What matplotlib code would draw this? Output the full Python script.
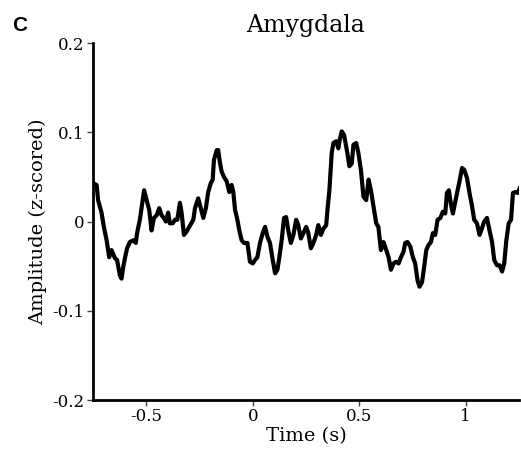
import matplotlib
matplotlib.use('Agg')
import matplotlib.pyplot as plt

# amplitude trace (time in s, z-scored amplitude)
time_s = [
    -0.750, -0.733, -0.726, -0.710, -0.699, -0.686, -0.674, -0.663, -0.647, -0.637,
    -0.624, -0.616, -0.608, -0.600, -0.590, -0.577, -0.561, -0.549, -0.543, -0.530,
    -0.517, -0.510, -0.498, -0.486, -0.475, -0.464, -0.451, -0.439, -0.428, -0.417,
    -0.408, -0.397, -0.389, -0.376, -0.365, -0.354, -0.342, -0.334, -0.323, -0.310,
    -0.298, -0.279, -0.271, -0.256, -0.244, -0.232, -0.220, -0.209, -0.197, -0.188,
    -0.182, -0.169, -0.162, -0.154, -0.146, -0.135, -0.122, -0.110, -0.099, -0.091,
    -0.083, -0.072, -0.063, -0.052, -0.041, -0.025, -0.013, 0.000, 0.011, 0.022,
    0.034, 0.047, 0.058, 0.069, 0.081, 0.094, 0.105, 0.116, 0.125, 0.136,
    0.147, 0.157, 0.167, 0.179, 0.191, 0.204, 0.214, 0.226, 0.238, 0.251,
    0.261, 0.273, 0.285, 0.298, 0.308, 0.320, 0.332, 0.345, 0.351, 0.360,
    0.371, 0.379, 0.392, 0.402, 0.410, 0.418, 0.429, 0.442, 0.454, 0.465,
    0.473, 0.486, 0.496, 0.508, 0.520, 0.533, 0.544, 0.555, 0.567, 0.580,
    0.590, 0.602, 0.614, 0.627, 0.638, 0.649, 0.661, 0.674, 0.685, 0.696,
    0.708, 0.716, 0.727, 0.740, 0.752, 0.763, 0.774, 0.783, 0.795, 0.805,
    0.815, 0.826, 0.837, 0.846, 0.857, 0.868, 0.881, 0.893, 0.904, 0.912,
    0.921, 0.931, 0.940, 0.951, 0.962, 0.971, 0.983, 0.993, 1.006, 1.018,
    1.030, 1.040, 1.053, 1.065, 1.076, 1.087, 1.100, 1.112, 1.124, 1.134,
    1.147, 1.159, 1.171, 1.181, 1.191, 1.202, 1.213, 1.222, 1.233, 1.244,
    1.253,
]
amplitude = [
    0.043, 0.041, 0.024, 0.010, -0.006, -0.021, -0.040, -0.032, -0.041, -0.043,
    -0.060, -0.064, -0.051, -0.041, -0.030, -0.023, -0.021, -0.024, -0.013, 0.002,
    0.024, 0.035, 0.024, 0.013, -0.010, 0.004, 0.007, 0.015, 0.007, 0.004,
    0.000, 0.010, -0.002, -0.002, 0.002, 0.002, 0.021, 0.010, -0.015, -0.011,
    -0.006, 0.002, 0.015, 0.026, 0.015, 0.004, 0.015, 0.033, 0.043, 0.047,
    0.069, 0.080, 0.080, 0.066, 0.056, 0.050, 0.045, 0.033, 0.041, 0.033,
    0.013, 0.002, -0.010, -0.021, -0.024, -0.024, -0.045, -0.047, -0.043, -0.040,
    -0.024, -0.013, -0.006, -0.017, -0.024, -0.043, -0.058, -0.054, -0.040, -0.021,
    0.004, 0.005, -0.010, -0.024, -0.015, 0.002, -0.004, -0.019, -0.013, -0.006,
    -0.013, -0.030, -0.024, -0.015, -0.004, -0.015, -0.008, -0.004, 0.013, 0.035,
    0.077, 0.088, 0.090, 0.082, 0.093, 0.101, 0.097, 0.080, 0.062, 0.065,
    0.086, 0.088, 0.077, 0.058, 0.028, 0.024, 0.047, 0.035, 0.017, -0.002,
    -0.006, -0.032, -0.023, -0.032, -0.040, -0.054, -0.047, -0.045, -0.047, -0.040,
    -0.034, -0.024, -0.023, -0.028, -0.040, -0.047, -0.066, -0.073, -0.068, -0.051,
    -0.032, -0.026, -0.023, -0.013, -0.015, 0.002, 0.004, 0.011, 0.009, 0.032,
    0.035, 0.019, 0.009, 0.022, 0.035, 0.045, 0.060, 0.058, 0.049, 0.032,
    0.017, 0.002, -0.002, -0.015, -0.008, 0.000, 0.004, -0.010, -0.023, -0.043,
    -0.049, -0.049, -0.056, -0.047, -0.021, -0.002, 0.002, 0.032, 0.033, 0.032,
    0.037,
]

x_ticks = [-0.5, 0, 0.5, 1]
x_tick_labels = ['-0.5', '0', '0.5', '1']
y_ticks = [-0.2, -0.1, 0, 0.1, 0.2]
y_tick_labels = ['-0.2', '-0.1', '0', '0.1', '0.2']

serif = ['DejaVu Serif']

fig = plt.figure(figsize=(5.21, 4.58), dpi=100)
ax = fig.add_axes([0.1785, 0.1266, 0.8175, 0.7794])

ax.plot(time_s, amplitude, color='black', linewidth=3, solid_joinstyle='round')

ax.set_xlim(-0.75, 1.25)
ax.set_ylim(-0.2, 0.2)
ax.set_xticks(x_ticks)
ax.set_xticklabels(x_tick_labels, family=serif, fontsize=12)
ax.set_yticks(y_ticks)
ax.set_yticklabels(y_tick_labels, family=serif, fontsize=12)
ax.tick_params(direction='out', length=4, width=1, color='#444444', pad=2)

for side in ['top', 'right']:
    ax.spines[side].set_visible(False)
for side in ['left', 'bottom']:
    ax.spines[side].set_linewidth(2)

ax.set_xlabel('Time (s)', family=serif, fontsize=14, labelpad=1)
ax.set_ylabel('Amplitude (z-scored)', family=serif, fontsize=14, labelpad=4)
ax.set_title('Amygdala', family=serif, fontsize=17, pad=8)

fig.text(0.024, 0.945, 'C', family=['Liberation Sans'], fontweight='bold', fontsize=15,
         ha='left', va='center')

fig.savefig('out.png', dpi=100)
